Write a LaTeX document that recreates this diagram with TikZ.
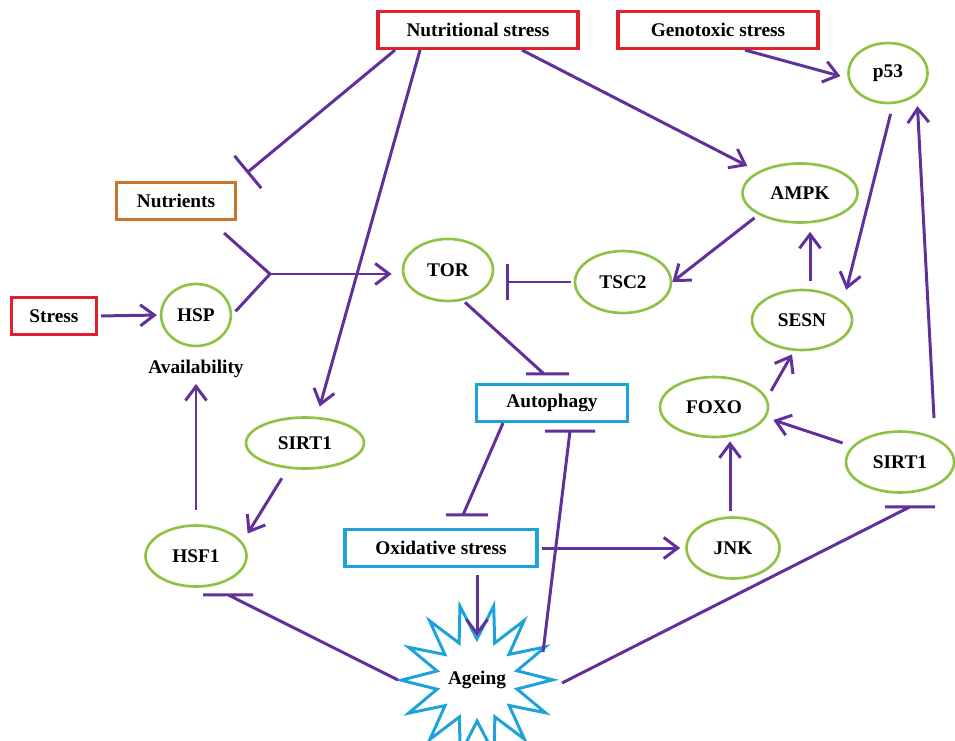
\documentclass[tikz,border=0pt]{standalone}
\usepackage{fontspec}
\setmainfont{Liberation Serif}
\usepackage{xcolor}
\usepackage{tikz}
\usetikzlibrary{shapes,arrows.meta,positioning,calc}

\definecolor{linkpurple}{HTML}{62309A}
\definecolor{boxred}{HTML}{E0202A}
\definecolor{boxblue}{HTML}{1DA3DA}
\definecolor{boxorange}{HTML}{C8762F}
\definecolor{genegreen}{HTML}{8DC244}

\begin{document}
\begin{tikzpicture}[x=0.02cm,y=-0.02cm,
    every node/.style={font=\fontsize{11}{13}\selectfont\bfseries},
    box/.style={rectangle,draw,line width=1.8pt,minimum height=0.74cm},
    redbox/.style={box,draw=boxred},
    bluebox/.style={box,draw=boxblue},
    gene/.style={ellipse,draw=genegreen,line width=1.5pt},
    wire/.style={draw=linkpurple,line width=1.7pt},
    act/.style={wire,-{Straight Barb[length=8pt,width=12pt]}},
    inh/.style={wire,-{Bar[width=0.8cm]}},
    hbar/.style={to path={-- (\tikztotarget) +(-0.5cm,0) -- +(0.5cm,0)}}]
    \useasboundingbox (0,0) rectangle (955,740);

    % boxes
    \node[redbox,minimum width=4cm] (ns) at (478,30) {Nutritional stress};
    \node[redbox,minimum width=4cm] (gs) at (718,30) {Genotoxic stress};
    \node[redbox,minimum width=1.7cm] (stress) at (54,316) {Stress};
    \node[box,draw=boxorange,minimum width=2.38cm] (nutr) at (176,201) {Nutrients};
    \node[bluebox,minimum width=3.02cm] (auto) at (552,403) {Autophagy};
    \node[bluebox,minimum width=3.84cm] (ox) at (441,548) {Oxidative stress};
    \node[star,star points=14,star point ratio=1.85,shape border rotate=13,
          draw=boxblue,line width=1.7pt,minimum size=2.76cm,inner sep=0pt] (age) at (477,680) {Ageing};

    % ellipses
    \node[gene,minimum width=1.58cm,minimum height=1.2cm] (p53) at (888,73) {p53};
    \node[gene,minimum width=2.3cm,minimum height=1.18cm] (ampk) at (800,193) {AMPK};
    \node[gene,minimum width=1.92cm,minimum height=1.24cm] (tsc2) at (623,282) {TSC2};
    \node[gene,minimum width=2cm,minimum height=1.2cm] (sesn) at (802,320) {SESN};
    \node[gene,minimum width=2.16cm,minimum height=1.2cm] (foxo) at (714,407) {FOXO};
    \node[gene,minimum width=2.16cm,minimum height=1.22cm] (sirtR) at (900,462) {SIRT1};
    \node[gene,minimum width=1.86cm,minimum height=1.22cm] (jnk) at (733,548) {JNK};
    \node[gene,minimum width=1.8cm,minimum height=1.24cm] (tor) at (448,270) {TOR};
    \node[gene,minimum width=1.24cm,minimum height=1.24cm] (hsp) at (196,315) {HSP};
    \node[gene,minimum width=2.36cm,minimum height=1.02cm] (sirtL) at (305,443) {SIRT1};
    \node[gene,minimum width=2.02cm,minimum height=1.22cm] (hsf1) at (196,556) {HSF1};
    \node (avail) at (196,369) {Availability};

    % links from the top
    \draw[wire,-{Bar[width=0.84cm]},shorten >=0.25cm] ([shift={(-83,0)}]ns.south) -- (nutr.north east);
    \draw[act,shorten >=0.2cm] ([shift={(-58,0)}]ns.south) -- ([shift={(12,0)}]sirtL.north);
    \draw[act,shorten >=0.24cm] ([shift={(44,0)}]ns.south) -- (ampk);
    \draw[act,shorten >=0.14cm] ([shift={(27,0)}]gs.south) -- ([shift={(0,5)}]p53.west);
    \draw[act,shorten <=0.2cm] ([shift={(5,0)}]p53.south) -- ([shift={(8,-8)}]sesn.north east);
    \draw[act,shorten >=0.22cm] ([shift={(34,-12)}]sirtR.north) -- (p53.south east);
    \draw[act,shorten <=0.1cm] (ampk.south west) -- (tsc2.east);
    \draw[act,shorten <=0.16cm,shorten >=0.16cm] ([shift={(8,0)}]sesn.north) -- ([shift={(10,0)}]ampk.south);
    \draw[wire,-{Bar[width=0.72cm]},shorten <=0.06cm,shorten >=0.24cm] (tsc2.west) -- (tsc2.west -| tor.east);

    % left side
    \coordinate (jn) at (270,274);
    \draw[wire] ([shift={(-13,12)}]nutr.south east) -- (jn);
    \draw[wire,shorten <=0.1cm] (hsp.east) -- (jn);
    \draw[act,shorten >=0.2cm] (jn) -- (jn -| tor.west);
    \draw[act,shorten <=0.06cm,shorten >=0.06cm] (stress.east) -- (hsp.west);
    \draw[act,shorten <=0.28cm] (hsf1.north) -- (avail.south);
    \draw[act,shorten <=0.2cm] ([shift={(-18,0)}]sirtL.south) -- ([shift={(15,0)}]hsf1.north east);

    % middle
    \draw[wire,hbar,shorten <=0.14cm] ([shift={(17,0)}]tor.south) to ([shift={(-8,-9)}]auto.north);
    \draw[wire,hbar,shorten <=0.16cm] ([shift={(-49,0)}]auto.south) to ([shift={(22,-13)}]ox.north);
    \draw[wire,hbar] ([shift={(66,-28)}]age.center) to ([shift={(18,8)}]auto.south);
    \draw[act,shorten <=0.14cm] (ox.south -| age) -- ([shift={(0,-44)}]age.center);
    \draw[act,shorten <=0.06cm,shorten >=0.1cm] (ox.east) -- (jnk.west);
    \draw[wire,hbar] ([shift={(-79,0)}]age.center) to ([shift={(32,7)}]hsf1.south);
    \draw[wire,hbar] ([shift={(85,3)}]age.center) to ([shift={(10,13)}]sirtR.south);

    % right side
    \draw[act,shorten >=0.06cm] ([shift={(-3,-5)}]jnk.north) -- ([shift={(16,0)}]foxo.south);
    \draw[act,shorten <=0.2cm] (sirtR) -- ([shift={(4,13)}]foxo.east);
    \draw[act] ([shift={(18,6)}]foxo.north east) -- ([shift={(-10,3)}]sesn.south);
\end{tikzpicture}
\end{document}
